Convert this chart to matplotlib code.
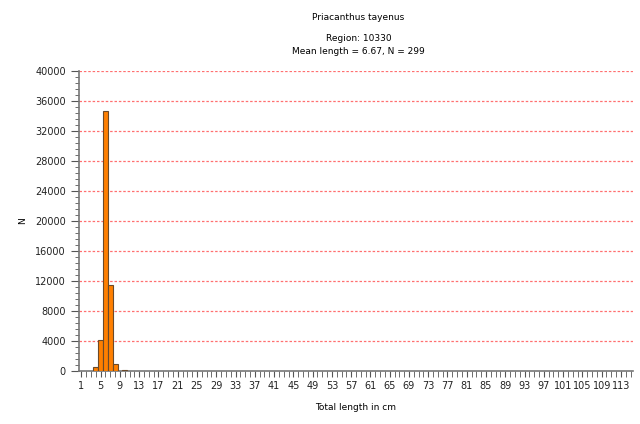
import matplotlib.pyplot as plt
from matplotlib.ticker import MultipleLocator

# length classes (cm) and counts
lengths = [4, 5, 6, 7, 8, 10]
counts = [500, 4200, 34700, 11500, 1000, 150]

species = "Priacanthus tayenus"
region = "Region: 10330"
summary = "Mean length = 6.67, N = 299"

fig = plt.figure(figsize=(6.4, 4.24), dpi=100)
ax = fig.add_axes([0.1234, 0.125, 0.8656, 0.7075])

ax.bar(lengths, counts, width=1.0, color="#ff7f00", edgecolor="#6b4a2a", linewidth=0.8, zorder=3)

ax.set_xlim(0.5, 115.5)
ax.set_ylim(0, 40000)
ax.set_xticks(range(1, 114, 4))
ax.xaxis.set_minor_locator(MultipleLocator(1))
ax.yaxis.set_major_locator(MultipleLocator(4000))
ax.yaxis.set_minor_locator(MultipleLocator(800))

for s in ["top", "right"]:
    ax.spines[s].set_visible(False)
for s in ["left", "bottom"]:
    ax.spines[s].set_color("#777777")
    ax.spines[s].set_linewidth(1.2)

ax.tick_params(axis="both", which="both", color="#555555", labelcolor="#222222", labelsize=7)
ax.tick_params(axis="y", which="major", length=6)
ax.tick_params(axis="y", which="minor", length=3)
ax.tick_params(axis="x", which="both", length=4)

# red dotted guide lines at each major y tick
for yv in range(4000, 40001, 4000):
    ax.axhline(yv, color="#ff7070", linestyle=(0, (2, 1.5)), linewidth=0.9, zorder=0)

ax.set_xlabel("Total length in cm", fontsize=6.5, labelpad=8)
ax.set_ylabel("N", fontsize=6.5, labelpad=6)

fig.text(0.56, 0.958, species, ha="center", va="center", fontsize=6.5)
fig.text(0.56, 0.91, region, ha="center", va="center", fontsize=6.5)
fig.text(0.56, 0.878, summary, ha="center", va="center", fontsize=6.5)

fig.savefig("out.png", dpi=100)
